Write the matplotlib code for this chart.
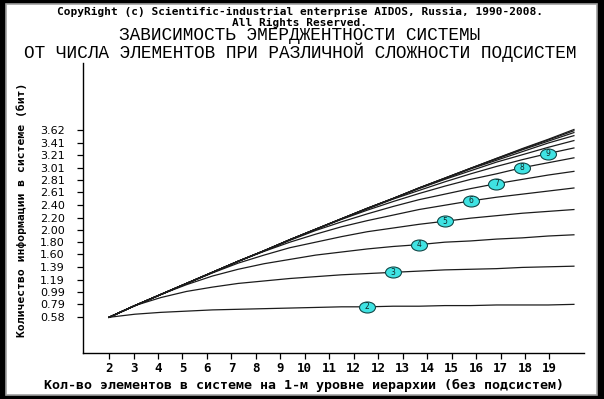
import numpy as np
import matplotlib
matplotlib.use('Agg')
import matplotlib.pyplot as plt
from matplotlib.patches import Rectangle
from matplotlib.path import Path

# number of elements W (x axis)
w = list(range(2, 21))

# emergence curves for different subsystem complexity M
m2 = [0.58, 0.63, 0.66, 0.68, 0.70, 0.71, 0.72, 0.73, 0.74, 0.75, 0.75, 0.76, 0.76, 0.77, 0.77, 0.78, 0.78, 0.78, 0.79]
m3 = [0.58, 0.77, 0.90, 1.00, 1.07, 1.13, 1.17, 1.21, 1.24, 1.27, 1.29, 1.31, 1.33, 1.35, 1.36, 1.37, 1.39, 1.40, 1.41]
m4 = [0.58, 0.77, 0.95, 1.11, 1.25, 1.36, 1.45, 1.52, 1.59, 1.64, 1.69, 1.73, 1.76, 1.80, 1.82, 1.85, 1.87, 1.90, 1.92]
m5 = [0.58, 0.77, 0.95, 1.13, 1.30, 1.46, 1.59, 1.71, 1.80, 1.89, 1.97, 2.03, 2.09, 2.14, 2.19, 2.23, 2.27, 2.30, 2.33]
m6 = [0.58, 0.77, 0.95, 1.13, 1.31, 1.49, 1.65, 1.80, 1.93, 2.05, 2.15, 2.24, 2.33, 2.40, 2.47, 2.53, 2.58, 2.63, 2.68]
m7 = [0.58, 0.77, 0.95, 1.13, 1.31, 1.49, 1.66, 1.83, 1.99, 2.13, 2.26, 2.38, 2.49, 2.58, 2.67, 2.75, 2.82, 2.89, 2.95]
m8 = [0.58, 0.77, 0.95, 1.13, 1.31, 1.49, 1.66, 1.84, 2.01, 2.17, 2.32, 2.46, 2.59, 2.71, 2.82, 2.91, 3.01, 3.09, 3.17]
m9 = [0.58, 0.77, 0.95, 1.13, 1.31, 1.49, 1.66, 1.84, 2.01, 2.18, 2.34, 2.50, 2.64, 2.78, 2.91, 3.03, 3.14, 3.24, 3.33]
m10 = [0.58, 0.77, 0.95, 1.13, 1.31, 1.49, 1.66, 1.84, 2.01, 2.18, 2.35, 2.51, 2.67, 2.82, 2.96, 3.10, 3.22, 3.34, 3.45]
m11 = [0.58, 0.77, 0.95, 1.13, 1.31, 1.49, 1.66, 1.84, 2.01, 2.18, 2.35, 2.51, 2.68, 2.83, 2.99, 3.13, 3.27, 3.41, 3.53]
m12 = [0.58, 0.77, 0.95, 1.13, 1.31, 1.49, 1.66, 1.84, 2.01, 2.18, 2.35, 2.51, 2.68, 2.84, 3.00, 3.15, 3.30, 3.44, 3.58]
m13 = [0.58, 0.77, 0.95, 1.13, 1.31, 1.49, 1.66, 1.84, 2.01, 2.18, 2.35, 2.51, 2.68, 2.84, 3.00, 3.16, 3.31, 3.46, 3.61]
m_all = [0.58, 0.77, 0.95, 1.13, 1.31, 1.49, 1.66, 1.84, 2.01, 2.18, 2.35, 2.51, 2.68, 2.84, 3.00, 3.16, 3.32, 3.47, 3.63]

curves = [m2, m3, m4, m5, m6, m7, m8, m9, m10, m11, m12, m13, m_all]
labelled = [2, 3, 4, 5, 6, 7, 8, 9]

y_ticks = [0.58, 0.79, 0.99, 1.19, 1.39, 1.60, 1.80, 2.00, 2.20, 2.40, 2.61, 2.81, 3.01, 3.21, 3.41, 3.62]
x_tick_labels = ['2', '3', '4', '5', '6', '7', '8', '9', '10', '11', '12', '12',
                 '13', '14', '15', '16', '17', '18', '19']

W, H = 604, 399
fig = plt.figure(figsize=(W / 100, H / 100), dpi=100, facecolor='black')
fig.add_artist(Rectangle((6 / W, 4 / H), 591 / W, 391 / H, transform=fig.transFigure,
                         facecolor='white', edgecolor='#a0a0a0', lw=1.2, zorder=-1))

def px(x, y):
    return x / W, 1 - y / H

ax = fig.add_axes([83 / W, 1 - 353 / H, (584 - 83) / W, (353 - 63) / H])
ax.set_facecolor('none')

for c in curves:
    ax.plot(w, c, color='#1c1c1c', lw=0.9)

# cyan oval labels
circ = Path.unit_circle()
oval = Path(circ.vertices * [1.45, 1.0], circ.codes)
for m in labelled:
    xv = m + 10
    yv = curves[m - 2][xv - 2]
    ax.plot(xv, yv, marker=oval, ms=11.5, mfc='#3fe3e3', mec='#124848', mew=0.8, zorder=5)
    ax.text(xv, yv, str(m), ha='center', va='center', fontsize=5.5, color='#102828',
            family='DejaVu Sans', zorder=6)

ax.set_xlim(0.99, 20.39)
ax.set_ylim(0, 4.71)
for s in ['top', 'right']:
    ax.spines[s].set_visible(False)
for s in ['left', 'bottom']:
    ax.spines[s].set_color('black')
    ax.spines[s].set_linewidth(1.0)

ax.set_yticks(y_ticks)
ax.set_yticklabels(['%.2f' % v for v in y_ticks], family='DejaVu Sans', fontsize=8)
ax.set_xticks(2 + np.arange(len(x_tick_labels)) * 18 / 19)
ax.set_xticklabels(x_tick_labels, family='DejaVu Sans Mono', fontweight='bold', fontsize=9)
ax.tick_params(axis='y', direction='out', length=4, width=0.9, pad=9)
ax.tick_params(axis='x', direction='out', length=4.5, width=0.9, pad=2)

# texts
mono = ['Liberation Mono', 'DejaVu Sans Mono']
fig.text(*px(300, 17.5), 'CopyRight (c) Scientific-industrial enterprise AIDOS, Russia, 1990-2008.\n'
         'All Rights Reserved.', ha='center', va='center', multialignment='center',
         family='DejaVu Sans Mono', weight='bold', size=8, linespacing=1.02)
fig.text(*px(300, 44.5), 'ЗАВИСИМОСТЬ ЭМЕРДЖЕНТНОСТИ СИСТЕМЫ\n'
         'ОТ ЧИСЛА ЭЛЕМЕНТОВ ПРИ РАЗЛИЧНОЙ СЛОЖНОСТИ ПОДСИСТЕМ',
         ha='center', va='center', multialignment='center', family=mono, size=12.8,
         linespacing=0.95)
fig.text(*px(22, 210), 'Количество информации в системе (бит)', rotation=90,
         ha='center', va='center', family='DejaVu Sans Mono', weight='bold', size=8.2)
fig.text(*px(304, 385), 'Кол-во элементов в системе на 1-м уровне иерархии (без подсистем)',
         ha='center', va='center', family='DejaVu Sans Mono', weight='bold', size=9.5)

fig.savefig('out.png', dpi=100, facecolor=fig.get_facecolor())
